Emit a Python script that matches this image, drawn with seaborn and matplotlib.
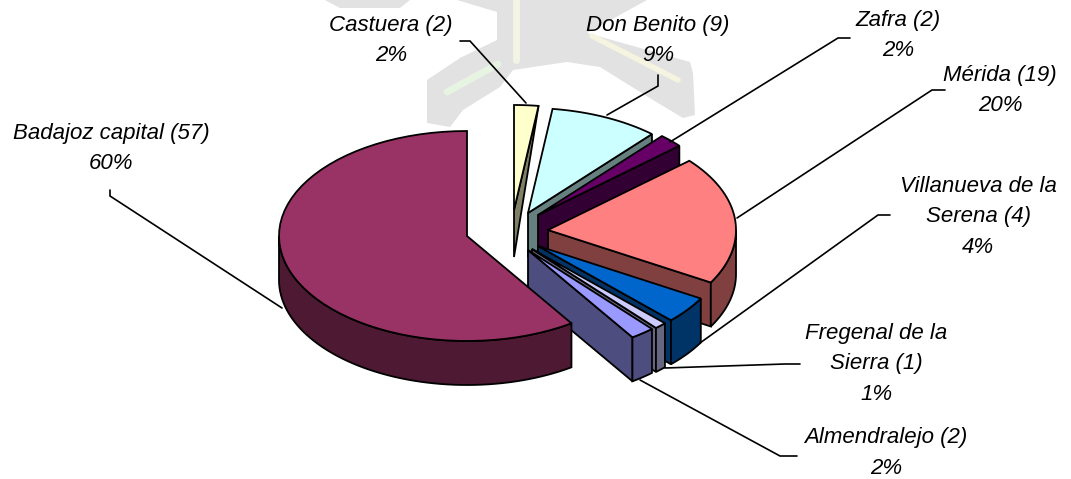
import matplotlib
matplotlib.use("Agg")
import matplotlib.pyplot as plt
import numpy as np
import seaborn as sns

# datos del grafico, en el orden de las agujas del reloj desde las 12
labels = ["Castuera (2)", "Don Benito (9)", "Zafra (2)", "Mérida (19)",
          "Villanueva de la\nSerena (4)", "Fregenal de la\nSierra (1)",
          "Almendralejo (2)", "Badajoz capital (57)"]
values = [2, 9, 2, 19, 4, 1, 2, 57]
percents = ["2%", "9%", "2%", "20%", "4%", "1%", "2%", "60%"]

top_colors = ["#FFFFCC", "#CCFFFF", "#660066", "#FF8080",
              "#0066CC", "#CCCCFF", "#9999FF", "#993366"]
side_colors = ["#808066", "#668080", "#330033", "#804040",
               "#003366", "#666680", "#4D4D80", "#4D1933"]

# vertice de cada porcion separada (pixeles de la figura)
apex = [(514, 210), (528, 213), (538, 215), (548, 230),
        (538, 246), (532, 249), (528, 250), (467, 236)]
# centro de cada etiqueta
label_pos = [(391, 25), (658, 25), (898, 20), (1000, 75),
             (978, 186), (876, 333), (886, 438), (111, 133)]
line_gap = 30.5
# lineas guia
leaders = [[(460, 41), (470, 41), (526, 103)],
           [(658, 75), (658, 86), (607, 115)],
           [(850, 38), (838, 38), (670, 142)],
           [(945, 90), (932, 90), (737, 218)],
           [(890, 215), (878, 215), (700, 343)],
           [(800, 364), (785, 364), (665, 368)],
           [(797, 456), (780, 456), (640, 380)],
           [(110, 190), (110, 196), (282, 308)]]

RX, RY, DEPTH = 188, 105, 44
EDGE = dict(edgecolor="black", linewidth=1.3, joinstyle="miter")

sns.set_theme(style="white")
plt.rcParams["font.family"] = ["Liberation Sans", "DejaVu Sans"]

fig = plt.figure(figsize=(10.71, 4.79), dpi=100)
ax = fig.add_axes([0, 0, 1, 1])
ax.set_xlim(0, 1071)
ax.set_ylim(479, 0)
ax.axis("off")

# marca de agua del fondo
ax.fill([457, 497, 497, 460, 427, 427, 450, 463, 500, 513, 567, 600, 653, 683,
         695, 693, 690, 587, 647],
        [0, 12, 40, 58, 80, 123, 127, 110, 87, 70, 62, 67, 100, 118,
         115, 73, 62, 33, 0], color="#E2E2E2", lw=0, zorder=0)
ax.fill([325, 410, 400, 340], [0, 0, 8, 8], color="#E2E2E2", lw=0, zorder=0)
ax.plot([516, 516], [0, 60], color="#F4F4E6", lw=5, zorder=0)
ax.plot([592, 678], [36, 80], color="#F4F4E0", lw=4, zorder=0)
ax.plot([447, 498], [92, 64], color="#E8F4E2", lw=5, zorder=0)


def point(center, deg, drop=0):
    t = np.radians(deg)
    return center[0] + RX * np.sin(t), center[1] - RY * np.cos(t) + drop


def draw_slice(i, start, end):
    c = apex[i]
    arc = np.linspace(start, end, 60)
    ax_, ay_ = point(c, arc)

    # cara de corte del borde final
    if end < 180:
        ox, oy = point(c, end)
        if i == 0:  # la porcion estrecha se ve como un triangulo
            xs, ys = [c[0], ox, c[0]], [c[1], oy, c[1] + DEPTH + 3]
        else:
            xs = [c[0], ox, ox, c[0]]
            ys = [c[1], oy, oy + DEPTH, c[1] + DEPTH]
        ax.fill(xs, ys, facecolor=side_colors[i], **EDGE)

    # borde exterior visible
    lo, hi = max(start, 90), min(end, 270)
    if hi > lo:
        rim = np.linspace(lo, hi, 60)
        rx, ry = point(c, rim)
        ax.fill(np.r_[rx, rx[::-1]], np.r_[ry, ry[::-1] + DEPTH],
                facecolor=side_colors[i], **EDGE)

    # cara superior
    ax.fill(np.r_[c[0], ax_], np.r_[c[1], ay_], facecolor=top_colors[i], **EDGE)


# angulos a partir de los valores
total = sum(values)
edges = np.r_[0, np.cumsum(values)] / total * 360

# Badajoz ocupa el resto de la vuelta, sus angulos siguen a los demas
for i in [1, 0, 2, 3, 4, 5, 6]:
    draw_slice(i, edges[i], edges[i + 1])
draw_slice(7, edges[7], edges[8])

for pts in leaders:
    xs, ys = zip(*pts)
    ax.plot(xs, ys, color="black", lw=1.2, solid_joinstyle="miter")

for i, (x, y) in enumerate(label_pos):
    rows = labels[i].split("\n") + [percents[i]]
    for k, row in enumerate(rows):
        ax.text(x, y + k * line_gap, row, ha="center", va="center",
                fontsize=16, fontstyle="italic", color="black")

fig.savefig("out.png", dpi=100, facecolor="white")
